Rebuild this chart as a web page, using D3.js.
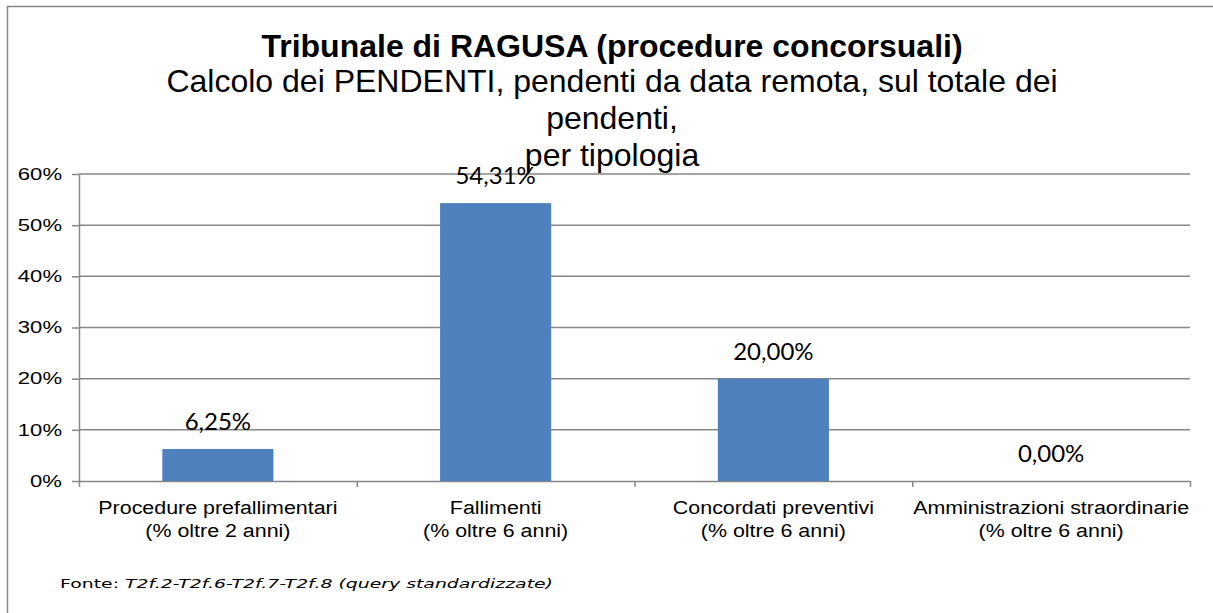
<!DOCTYPE html>
<meta charset="utf-8">
<style>
body { margin: 0; background: #fff; }
svg { display: block; }
.grid line { stroke: #868686; stroke-width: 1.5; }
.axis path, .axis line { stroke: #868686; stroke-width: 1.5; }
</style>
<body>
<script src="https://cdn.jsdelivr.net/npm/d3@7"></script>
<script>
// data
var categories = [
  ["Procedure prefallimentari", "(% oltre 2 anni)"],
  ["Fallimenti", "(% oltre 6 anni)"],
  ["Concordati preventivi", "(% oltre 6 anni)"],
  ["Amministrazioni straordinarie", "(% oltre 6 anni)"]
];
var values = [0.0625, 0.5431, 0.20, 0.0];
var valueLabels = ["6,25%", "54,31%", "20,00%", "0,00%"];
var yTicks = [0, 0.1, 0.2, 0.3, 0.4, 0.5, 0.6];

var title = "Tribunale di RAGUSA (procedure concorsuali)";
var subtitleLines = ["Calcolo dei PENDENTI, pendenti da data remota, sul totale dei", "pendenti,", "per tipologia"];

var W = 1213, H = 613;
var plot = {left: 79, right: 1190, top: 174, bottom: 481};
var ARIAL = "Liberation Sans, Arial, sans-serif";

// the text in the picture is a bit wider than the plain font, so stretch it sideways
function placeText(sel, px, py, sx) {
  sel.attr("transform", function(d, i) {
    return "translate(" + px(d, i) + "," + py(d, i) + ") scale(" + sx + ",1)";
  });
}

var svg = d3.select("body").append("svg")
    .attr("width", W)
    .attr("height", H);

// outer chart frame (top + left edges visible)
svg.append("line").attr("x1", 7).attr("x2", W).attr("y1", 6.5).attr("y2", 6.5)
    .attr("stroke", "#868686").attr("stroke-width", 1.5);
svg.append("line").attr("x1", 7.5).attr("x2", 7.5).attr("y1", 6).attr("y2", H)
    .attr("stroke", "#868686").attr("stroke-width", 1.5);

var x = d3.scaleBand()
    .domain(d3.range(categories.length))
    .range([plot.left, plot.right])
    .paddingInner(0.6)
    .paddingOuter(0.3);

var y = d3.scaleLinear()
    .domain([0, 0.6])
    .range([plot.bottom, plot.top]);

// horizontal gridlines
svg.append("g").attr("class", "grid")
  .selectAll("line")
  .data(yTicks.slice(1))
  .enter().append("line")
    .attr("x1", plot.left).attr("x2", plot.right)
    .attr("y1", function(d) { return y(d); })
    .attr("y2", function(d) { return y(d); });

// y axis (line + ticks), labels drawn separately
svg.append("g")
    .attr("class", "axis")
    .attr("transform", "translate(" + plot.left + ",0)")
    .call(d3.axisLeft(y).tickValues(yTicks).tickSize(7).tickSizeOuter(0).tickFormat(""));

var yLab = svg.append("g")
  .selectAll("text")
  .data(yTicks)
  .enter().append("text")
    .attr("text-anchor", "end")
    .attr("dy", "0.36em")
    .attr("font-family", ARIAL)
    .attr("font-size", 16)
    .text(function(d) { return Math.round(d * 100) + "%"; });
placeText(yLab, function() { return 62; }, function(d) { return y(d); }, 1.38);

// x axis: ticks on category boundaries
var xb = d3.scaleLinear().domain([0, categories.length]).range([plot.left, plot.right]);
svg.append("g")
    .attr("class", "axis")
    .attr("transform", "translate(0," + plot.bottom + ")")
    .call(d3.axisBottom(xb).ticks(categories.length).tickSize(6).tickSizeOuter(0).tickFormat(""));

// category labels
var cat = svg.append("g")
  .selectAll("text")
  .data(categories)
  .enter().append("text")
    .attr("text-anchor", "middle")
    .attr("font-family", ARIAL)
    .attr("font-size", 18);
cat.each(function(d) {
  var t = d3.select(this);
  d.forEach(function(line, j) {
    t.append("tspan").attr("x", 0).attr("y", j * 23).text(line);
  });
});
placeText(cat, function(d, i) { return x(i) + x.bandwidth() / 2; }, function() { return 514; }, 1.19);

// bars
svg.append("g")
  .selectAll("rect")
  .data(values)
  .enter().append("rect")
    .attr("x", function(d, i) { return x(i); })
    .attr("y", function(d) { return y(d); })
    .attr("width", x.bandwidth())
    .attr("height", function(d) { return y(0) - y(d); })
    .attr("fill", "#4F81BD");

// value labels
svg.append("g")
  .selectAll("text")
  .data(values)
  .enter().append("text")
    .attr("x", function(d, i) { return x(i) + x.bandwidth() / 2; })
    .attr("y", function(d) { return y(d) - 19; })
    .attr("text-anchor", "middle")
    .attr("font-family", "Lato, 'Open Sans', sans-serif")
    .attr("font-size", 24)
    .text(function(d, i) { return valueLabels[i]; });

// title
svg.append("text")
    .attr("x", 612).attr("y", 57)
    .attr("text-anchor", "middle")
    .attr("font-family", ARIAL)
    .attr("font-size", 32).attr("font-weight", "bold")
    .text(title);

svg.append("g")
  .selectAll("text")
  .data(subtitleLines)
  .enter().append("text")
    .attr("x", 612)
    .attr("y", function(d, i) { return 92 + i * 37; })
    .attr("text-anchor", "middle")
    .attr("font-family", ARIAL)
    .attr("font-size", 32)
    .text(function(d) { return d; });

// source note
var fonte = svg.append("text")
    .attr("font-family", "DejaVu Sans, Verdana, sans-serif")
    .attr("font-size", 13);
fonte.append("tspan").text("Fonte: ");
fonte.append("tspan").attr("font-style", "italic").text("T2f.2-T2f.6-T2f.7-T2f.8 (query standardizzate)");
fonte.attr("transform", "translate(60,588) scale(1.45,1)");
</script>
</body>
